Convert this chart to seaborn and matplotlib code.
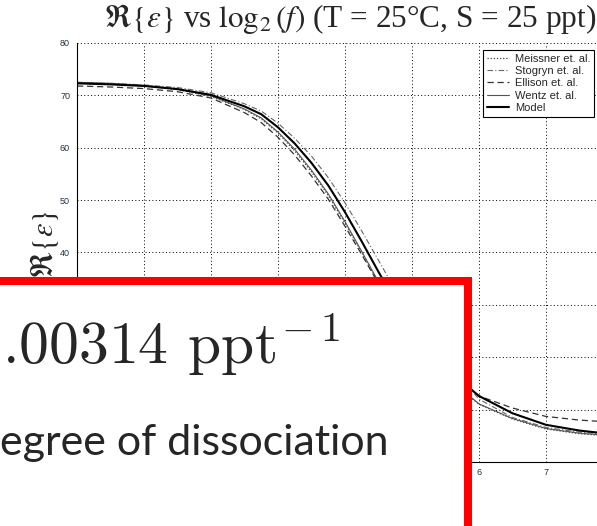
import matplotlib
matplotlib.use("Agg")
import matplotlib.pyplot as plt
import seaborn as sns
from matplotlib.patches import Rectangle

# Real part of seawater permittivity vs log2 of frequency (GHz)
log2_freq = [0, 0.5, 1, 1.5, 2, 2.5, 2.75, 3, 3.25, 3.5, 3.75, 4, 4.25,
             4.5, 4.75, 5, 5.5, 6, 6.5, 7, 7.5, 8]

meissner = [72.4, 72.2, 71.8, 71.1, 69.8, 67.3, 65.5, 62.8, 59.4, 55.4, 50.9,
            45.6, 40.0, 34.2, 28.7, 23.7, 16.2, 11.0, 8.2, 6.3, 5.4, 4.9]
stogryn = [72.4, 72.3, 72.0, 71.5, 70.5, 68.4, 67.0, 64.7, 61.8, 58.4, 54.3,
           49.5, 44.1, 38.5, 32.9, 27.6, 19.4, 12.0, 8.5, 6.6, 5.7, 5.2]
ellison = [71.8, 71.6, 71.3, 70.7, 69.5, 66.7, 64.8, 62.0, 58.6, 54.6, 50.2,
           45.0, 39.6, 34.0, 28.8, 24.1, 17.0, 12.6, 10.3, 8.7, 8.0, 7.6]
wentz = [72.5, 72.3, 71.9, 71.2, 69.9, 67.4, 65.7, 63.0, 59.7, 55.7, 51.2,
         45.9, 40.2, 34.4, 28.9, 23.9, 16.4, 11.1, 8.3, 6.4, 5.5, 5.0]
model = [72.3, 72.1, 71.8, 71.2, 70.1, 67.9, 66.4, 63.9, 60.8, 57.1, 52.8,
         47.7, 42.1, 36.3, 30.8, 25.8, 18.0, 12.6, 9.3, 7.1, 6.0, 5.3]

x_ticks = [0, 1, 2, 3, 4, 5, 6, 7, 8]
y_ticks = [0, 10, 20, 30, 40, 50, 60, 70, 80]

sns.set_theme(style="white")
plt.rcParams["font.family"] = ["Liberation Sans", "DejaVu Sans"]
plt.rcParams["mathtext.fontset"] = "stix"

W, H = 597, 526
fig = plt.figure(figsize=(W / 100, H / 100), dpi=100)


def fx(px):
    return px / W


def fy(py):
    return 1 - py / H


ax = fig.add_axes([fx(77), fy(462), fx(613) - fx(77), fy(43) - fy(462)])

series = [
    ("Meissner et. al.", meissner, dict(color="#444444", lw=0.9, ls=(0, (1, 1.5)))),
    ("Stogryn et. al.", stogryn, dict(color="#666666", lw=0.8, ls=(0, (5, 2, 1, 2)))),
    ("Ellison et. al.", ellison, dict(color="#333333", lw=0.9, ls=(0, (5, 3)))),
    ("Wentz et. al.", wentz, dict(color="#555555", lw=0.8, ls="-")),
    ("Model", model, dict(color="black", lw=1.5, ls="-")),
]
for name, vals, st in series:
    sns.lineplot(x=log2_freq, y=vals, ax=ax, label=name, **st)

ax.set_xlim(0, 8)
ax.set_ylim(0, 80)
ax.set_xticks(x_ticks)
ax.set_yticks(y_ticks)
ax.grid(True, color="black", ls=(0, (1, 2.5)), lw=0.7)
for side in ("top", "right"):
    ax.spines[side].set_visible(False)
for side in ("left", "bottom"):
    ax.spines[side].set_color("black")
    ax.spines[side].set_linewidth(0.8)
ax.tick_params(direction="in", length=3, width=0.6, labelsize=6.5,
               labelcolor="#223344", color="black")
ax.tick_params(axis="y", pad=5)
ax.tick_params(axis="x", pad=4)
ax.set_xlabel("")
ax.set_ylabel(r"$\Re\{\epsilon\}$", fontsize=22, family="Liberation Serif")
ax.yaxis.set_label_coords(-0.03, 0.52)

handles, labels = ax.get_legend_handles_labels()
leg = ax.legend(handles, labels, loc="upper left",
                bbox_to_anchor=(fx(483), fy(50)), bbox_transform=fig.transFigure,
                fontsize=8, frameon=True, fancybox=False, edgecolor="black",
                framealpha=1, borderpad=0.35, handlelength=2.0,
                handletextpad=0.5, labelspacing=0.2, borderaxespad=0)
leg.get_frame().set_linewidth(0.8)

fig.text(fx(104), fy(27),
         r"$\Re\{\epsilon\}$ vs $\log_2(f)$ (T = 25°C, S = 25 ppt)",
         fontsize=22.5, family="Liberation Serif", ha="left", va="baseline")

# Slide call-out box laid over the lower-left part of the chart
box = Rectangle((fx(-20), fy(560)), fx(468) - fx(-20), fy(281) - fy(560),
                transform=fig.transFigure, facecolor="white",
                edgecolor="#ff0000", lw=5.8, zorder=10)
fig.add_artist(box)
fig.text(fx(2), fy(364), r".00314 ppt$^{\!-1}$", fontsize=43,
         family="cmr10", math_fontfamily="cm", ha="left", va="baseline",
         zorder=11)
fig.text(fx(0), fy(455), "egree of dissociation", fontsize=31,
         family="Lato", ha="left", va="baseline", zorder=11)

fig.savefig("out.png", dpi=100)
